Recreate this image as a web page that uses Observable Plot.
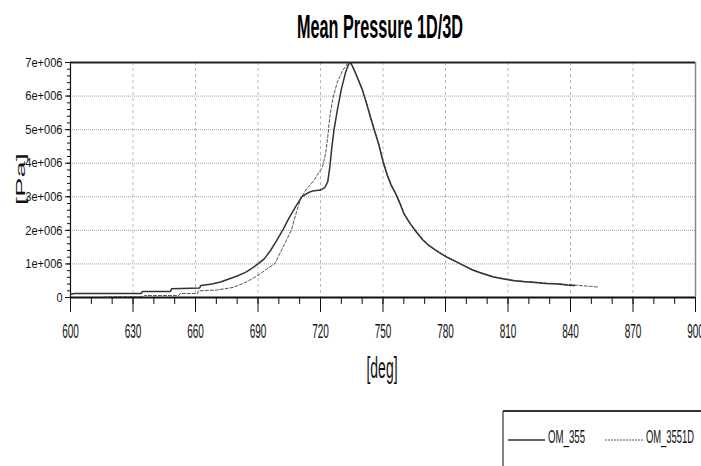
<!DOCTYPE html>
<html><head><meta charset="utf-8">
<script src="https://cdn.jsdelivr.net/npm/d3@7"></script>
<script src="https://cdn.jsdelivr.net/npm/@observablehq/plot@0.6"></script>
<style>
body{margin:0;background:#fff;}
#c{position:relative;width:701px;height:466px;overflow:hidden;background:#fff}
</style>
</head><body><div id="c"></div>
<script>
// ---- data (pressure in units of 1e6 Pa) ----
const degSolid = [600,602,634,634.5,648,648.5,662,662.5,668,672,676,680,684,687,690,693,696,699,702,705,708,711,714,716,718,720,722,723.5,724.5,725.5,726.5,728,730,732,733.5,734.5,736,738,740,742,744,746,748,750,752,754,756,758,760,763,766,769,772,775,778,781,785,789,793,797,803,808,813,818,823,828,834,838,842];
const pSolid = [0.10,0.12,0.12,0.18,0.18,0.26,0.28,0.36,0.40,0.46,0.55,0.64,0.75,0.87,1.0,1.15,1.4,1.7,2.02,2.38,2.7,3.0,3.12,3.17,3.19,3.2,3.27,3.45,3.9,4.5,5.0,5.55,6.2,6.7,6.95,7.0,6.8,6.5,6.2,5.8,5.36,4.95,4.55,4.05,3.65,3.33,3.1,2.82,2.5,2.2,1.95,1.72,1.55,1.42,1.3,1.19,1.07,0.94,0.82,0.73,0.61,0.55,0.5,0.47,0.45,0.42,0.4,0.37,0.36];
const degDash = [616,624,635,635.5,652,652.5,661,661.5,670,678,683,687,691,694,698,700,702,704,706,708,710,711,713,715,717,719,721,722.5,723.5,724.5,726,728,730.5,733,734,736,738,740,742,744,746,748,750,752,754,756,758,760,763,766,769,772,775,778,781,785,789,793,797,803,808,813,818,823,828,834,840,846,850,853];
const pDash = [0.02,0.03,0.03,0.06,0.06,0.12,0.12,0.2,0.22,0.3,0.42,0.55,0.7,0.84,1.0,1.25,1.5,1.75,2.0,2.45,2.85,3.0,3.2,3.35,3.5,3.7,3.9,4.3,4.8,5.4,5.95,6.4,6.75,6.97,7.0,6.82,6.52,6.22,5.82,5.4,4.98,4.58,4.08,3.68,3.36,3.12,2.85,2.52,2.22,1.97,1.74,1.56,1.43,1.31,1.2,1.08,0.95,0.83,0.74,0.62,0.56,0.51,0.48,0.46,0.43,0.41,0.38,0.35,0.33,0.31];
const seriesNames = ["OM_355", "OM_3551D"];
const xTicks = [600,630,660,690,720,750,780,810,840,870,900];
const xMinor = d3.range(600, 901, 10);
const yTicks = [0,1e6,2e6,3e6,4e6,5e6,6e6,7e6];
const yTickLabels = ["0","1e+006","2e+006","3e+006","4e+006","5e+006","6e+006","7e+006"];
const yMinor = d3.range(0, 7.01e6, 0.2e6);
const titleText = "Mean Pressure 1D/3D";
const xLabel = "[deg]";
const yLabel = "[Pa]";

const solid = degSolid.map((d,i)=>({deg:d, p:pSolid[i]*1e6}));
const dashed = degDash.map((d,i)=>({deg:d, p:pDash[i]*1e6}));

const chart = Plot.plot({
  width: 701, height: 466,
  marginTop: 62, marginBottom: 169, marginLeft: 70, marginRight: 6,
  style: {fontFamily: "'Liberation Sans', Arial, sans-serif", background: "white", color: "#111"},
  x: {domain: [600, 900]},
  y: {domain: [0, 7e6]},
  marks: [
    Plot.gridY(yTicks.slice(1, -1), {stroke: "#a0a0a0", strokeOpacity: 1, strokeDasharray: "1,1"}),
    Plot.gridX(xTicks.slice(1, -1), {stroke: "#b8b8b8", strokeOpacity: 1, strokeDasharray: "3,3"}),
    Plot.axisX(xMinor, {tickSize: 7, tickFormat: () => "", label: null}),
    Plot.axisX(xTicks, {tickSize: 15, tickPadding: 11, label: null, tickFormat: d => String(d), fontSize: 20}),
    Plot.axisY(yMinor, {tickSize: 3, tickFormat: () => "", label: null}),
    Plot.axisY(yTicks, {tickSize: 5, tickPadding: 3, label: null, fontSize: 13,
      tickFormat: d => yTickLabels[yTicks.indexOf(d)]}),
    Plot.ruleX([900], {stroke: "#888", strokeWidth: 1.5}),
    Plot.ruleX([600], {stroke: "#111", strokeWidth: 1.2}),
    Plot.ruleY([0], {stroke: "#111", strokeWidth: 2}),
    Plot.ruleY([7e6], {stroke: "#222", strokeWidth: 2.2}),
    Plot.line(dashed, {x: "deg", y: "p", stroke: "#555", strokeWidth: 1, strokeDasharray: "3,2"}),
    Plot.line(solid, {x: "deg", y: "p", stroke: "#333", strokeWidth: 1.5})
  ]
});
document.getElementById("c").appendChild(chart);

const svg = d3.select(chart);
function squeeze(sel, f) {
  chart.querySelectorAll(sel).forEach(t => {
    const w = t.getComputedTextLength();
    if (w > 0) { t.setAttribute("textLength", (w * f).toFixed(1)); t.setAttribute("lengthAdjust", "spacingAndGlyphs"); }
  });
}
squeeze('g[aria-label="x-axis tick label"] text', 0.5);
squeeze('g[aria-label="y-axis tick label"] text', 0.85);

const ff = "'Liberation Sans', Arial, sans-serif";
svg.append("text").attr("x", 380).attr("y", 38).attr("text-anchor", "middle")
  .attr("font-family", ff).attr("font-weight", "bold").attr("font-size", 34)
  .attr("textLength", 166).attr("lengthAdjust", "spacingAndGlyphs").attr("fill", "#000").text(titleText);
svg.append("text").attr("x", 382).attr("y", 378).attr("text-anchor", "middle")
  .attr("font-family", ff).attr("font-size", 29)
  .attr("textLength", 31).attr("lengthAdjust", "spacingAndGlyphs").attr("fill", "#111").text(xLabel);
svg.append("text").attr("transform", "translate(25,179) rotate(-90)").attr("text-anchor", "middle")
  .attr("font-family", ff).attr("font-size", 12)
  .attr("textLength", 52).attr("lengthAdjust", "spacingAndGlyphs").attr("fill", "#111").text(yLabel);

// legend
const lg = svg.append("g").attr("text-anchor", "start");
lg.append("line").attr("x1", 503).attr("x2", 503).attr("y1", 411).attr("y2", 470).attr("stroke", "#333").attr("stroke-width", 1.2);
lg.append("line").attr("x1", 503).attr("x2", 705).attr("y1", 411).attr("y2", 411).attr("stroke", "#333").attr("stroke-width", 2);
lg.append("line").attr("x1", 508).attr("x2", 545).attr("y1", 440).attr("y2", 440).attr("stroke", "#333").attr("stroke-width", 1.5);
lg.append("line").attr("x1", 605).attr("x2", 643).attr("y1", 440).attr("y2", 440).attr("stroke", "#555").attr("stroke-width", 1).attr("stroke-dasharray", "2,1");
lg.append("text").attr("x", 548).attr("y", 443).attr("text-anchor", "start").attr("font-family", ff).attr("font-size", 19)
  .attr("textLength", 37).attr("lengthAdjust", "spacingAndGlyphs").attr("fill", "#111").text(seriesNames[0]);
lg.append("text").attr("x", 646).attr("y", 443).attr("text-anchor", "start").attr("font-family", ff).attr("font-size", 19)
  .attr("textLength", 48).attr("lengthAdjust", "spacingAndGlyphs").attr("fill", "#111").text(seriesNames[1]);
</script>
</body></html>
